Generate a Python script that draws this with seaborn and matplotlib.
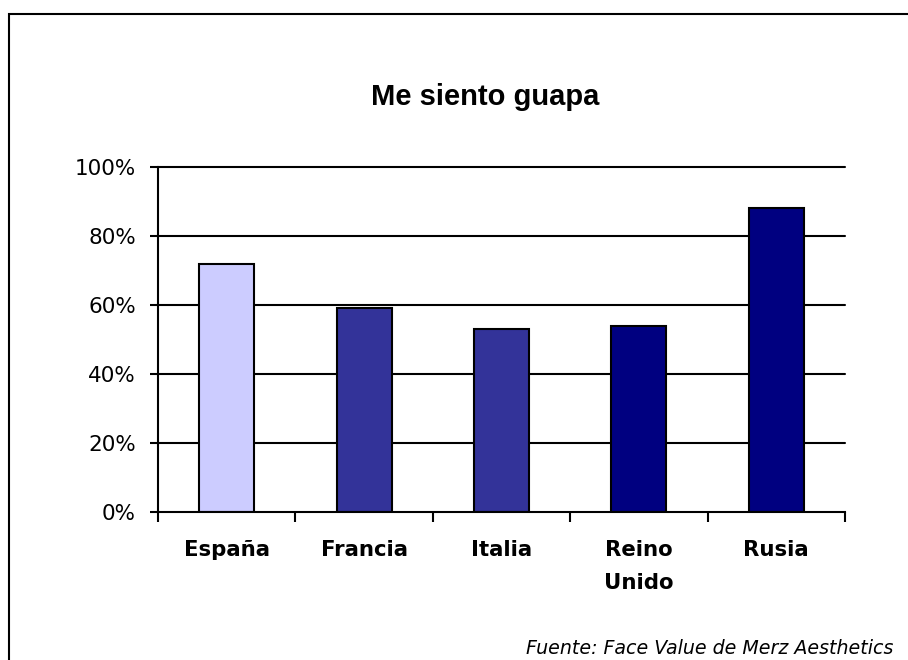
import matplotlib
matplotlib.use("Agg")
import matplotlib.pyplot as plt
from matplotlib.patches import Rectangle
import seaborn as sns
import pandas as pd

# datos del gráfico
paises = ["España", "Francia", "Italia", "Reino\nUnido", "Rusia"]
valores = [72, 59, 53, 54, 88]
colores = ["#CCCCFF", "#333399", "#333399", "#000080", "#000080"]
ticks_y = [0, 20, 40, 60, 80, 100]
etiquetas_y = ["0%", "20%", "40%", "60%", "80%", "100%"]

df = pd.DataFrame({"pais": paises, "valor": valores})

sns.set_style("white", {"xtick.bottom": True, "ytick.left": True,
                        "text.color": "black", "xtick.color": "black",
                        "ytick.color": "black"})
plt.rcParams["font.family"] = ["DejaVu Sans"]

fig = plt.figure(figsize=(9.08, 6.6), dpi=100)
ax = fig.add_axes([0.174, 0.2242, 0.7566, 0.5228])

sns.barplot(data=df, x="pais", y="valor", hue="pais", palette=colores,
            width=0.4, edgecolor="black", linewidth=1.5, legend=False,
            saturation=1, ax=ax, zorder=3)

# líneas de cuadrícula horizontales
for t in ticks_y[1:]:
    ax.axhline(t, color="black", linewidth=1.5, zorder=1, clip_on=False)

ax.set_ylim(0, 100)
ax.set_xlim(-0.5, len(paises) - 0.5)
ax.set_yticks(ticks_y)
ax.set_yticklabels(etiquetas_y, fontsize=15.5, color="black")
ax.set_xticks(range(len(paises)))
ax.set_xticklabels(paises, fontsize=15.3, fontweight="bold", linespacing=1.8,
                   color="black", va="top")
ax.set_xticks([i - 0.5 for i in range(len(paises) + 1)], minor=True)
ax.tick_params(axis="x", which="major", length=0, pad=20)
ax.tick_params(axis="x", which="minor", bottom=True, length=7, width=1.5,
               direction="out", color="black")
ax.tick_params(axis="y", length=6, width=1.5, direction="out", pad=10,
               left=True, color="black")
ax.set_xlabel("")
ax.set_ylabel("")

for s in ["top", "right"]:
    ax.spines[s].set_visible(False)
for s in ["left", "bottom"]:
    ax.spines[s].set_linewidth(1.5)
    ax.spines[s].set_color("black")
    ax.spines[s].set_zorder(4)

fig.text(0.534, 0.853, "Me siento guapa", fontsize=21, fontweight="bold",
         family="Liberation Sans", ha="center", va="center", color="black")
fig.text(0.9835, 0.003, "Fuente: Face Value de Merz Aesthetics", fontsize=13.7,
         style="italic", ha="right", va="bottom", color="black")

# marco del gráfico
fig.patches.append(Rectangle((9 / 908, -0.1), 1.2, 1 - 14 / 660 + 0.1,
                             transform=fig.transFigure, fill=False,
                             edgecolor="black", linewidth=1.5))

fig.savefig("out.png", dpi=100)
